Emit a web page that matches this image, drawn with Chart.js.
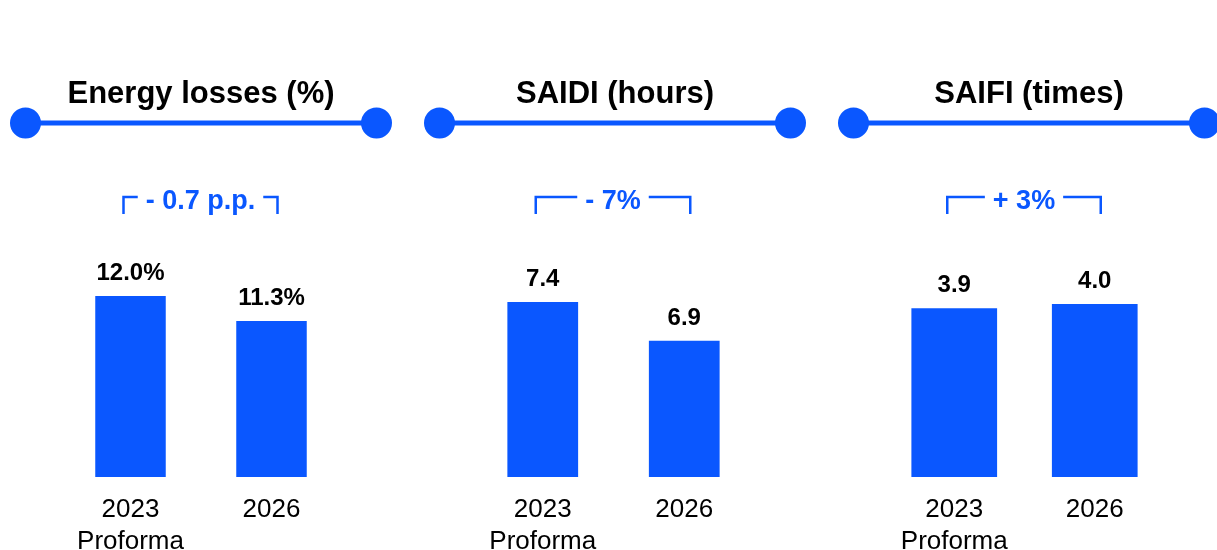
<!DOCTYPE html>
<html>
<head>
<meta charset="utf-8">
<script src="https://cdn.jsdelivr.net/npm/chart.js@4"></script>
<style>
    html, body { margin: 0; padding: 0; background: #ffffff; overflow: hidden; }
    #wrap { position: relative; width: 1217px; height: 550px; overflow: hidden; }
    #wrap canvas { position: absolute; top: 0; }
</style>
</head>
<body>
<div id="wrap">
    <canvas id="panelLosses" width="414" height="550" style="left:-6px"></canvas>
    <canvas id="panelSaidi" width="414" height="550" style="left:408px"></canvas>
    <canvas id="panelSaifi" width="414" height="550" style="left:822px"></canvas>
</div>
<script>
// data
const categories = [["2023", "Proforma"], "2026"];
const panelTitles = ["Energy losses (%)", "SAIDI (hours)", "SAIFI (times)"];
const lossValues = [12.0, 11.3];
const saidiValues = [7.4, 6.9];
const saifiValues = [3.9, 4.0];
const valueSuffixes = ["%", "", ""];
const changeLabels = ["- 0.7 p.p.", "- 7%", "+ 3%"];

const BLUE = "#0a57ff";
const FONT = "'Liberation Sans', Arial, Helvetica, sans-serif";

// title, connector line, value labels and change bracket
const panelDecor = {
    id: "panelDecor",
    afterDatasetsDraw: function (chart, args, opts) {
        const ctx = chart.ctx;
        const cx = chart.width / 2;
        const half = 175.5;
        const lineY = 123;

        ctx.save();
        ctx.textAlign = "center";
        ctx.textBaseline = "alphabetic";

        ctx.fillStyle = "#000000";
        ctx.font = "bold 31px " + FONT;
        ctx.fillText(opts.title, cx, 103);

        ctx.strokeStyle = BLUE;
        ctx.lineWidth = 5;
        ctx.beginPath();
        ctx.moveTo(cx - half, lineY);
        ctx.lineTo(cx + half, lineY);
        ctx.stroke();
        ctx.fillStyle = BLUE;
        [cx - half, cx + half].forEach(function (x) {
            ctx.beginPath();
            ctx.arc(x, lineY, 15.5, 0, Math.PI * 2);
            ctx.fill();
        });

        const meta = chart.getDatasetMeta(0);
        const values = chart.data.datasets[0].data;
        ctx.fillStyle = "#000000";
        ctx.font = "bold 24px " + FONT;
        meta.data.forEach(function (bar, i) {
            ctx.fillText(values[i].toFixed(1) + opts.suffix, bar.x, bar.y - 16);
        });

        const x1 = meta.data[0].x - 7;
        const x2 = meta.data[1].x + 6;
        const mid = (x1 + x2) / 2;
        ctx.font = "bold 27px " + FONT;
        const tw = ctx.measureText(opts.change).width;
        ctx.strokeStyle = BLUE;
        ctx.lineWidth = 2.5;
        ctx.beginPath();
        ctx.moveTo(x1, 214);
        ctx.lineTo(x1, 197);
        ctx.lineTo(mid - tw / 2 - 8, 197);
        ctx.moveTo(mid + tw / 2 + 8, 197);
        ctx.lineTo(x2, 197);
        ctx.lineTo(x2, 214);
        ctx.stroke();
        ctx.fillStyle = BLUE;
        ctx.fillText(opts.change, mid, 209);
        ctx.restore();
    }
};

function CreatePanel(canvasID, values, idx, yMin, yMax, padLeft, padRight, barPct) {
    const canvas = document.getElementById(canvasID);
    return new Chart(canvas, {
        type: "bar",
        data: {
            labels: categories,
            datasets: [{
                data: values,
                backgroundColor: BLUE,
                borderWidth: 0,
                barPercentage: barPct,
                categoryPercentage: 1
            }]
        },
        options: {
            responsive: false,
            animation: false,
            events: [],
            layout: {
                padding: { top: 250, bottom: 0, left: padLeft, right: padRight }
            },
            plugins: {
                legend: { display: false },
                tooltip: { enabled: false },
                panelDecor: {
                    title: panelTitles[idx],
                    suffix: valueSuffixes[idx],
                    change: changeLabels[idx]
                }
            },
            scales: {
                x: {
                    grid: { display: false, drawTicks: false },
                    border: { display: false },
                    ticks: {
                        color: "#000000",
                        padding: 17,
                        maxRotation: 0,
                        autoSkip: false,
                        font: { family: FONT, size: 26, lineHeight: 1.22 }
                    },
                    afterFit: function (scale) {
                        scale.height = 73;
                    }
                },
                y: {
                    display: false,
                    min: yMin,
                    max: yMax
                }
            }
        },
        plugins: [panelDecor]
    });
}

CreatePanel("panelLosses", lossValues, 0, 6.93, 13.29, 66, 66, 0.5);
CreatePanel("panelSaidi", saidiValues, 1, 5.14, 8.07, 64, 67, 0.5);
CreatePanel("panelSaifi", saifiValues, 2, 0, 5.25, 62, 71, 0.61);
</script>
</body>
</html>
